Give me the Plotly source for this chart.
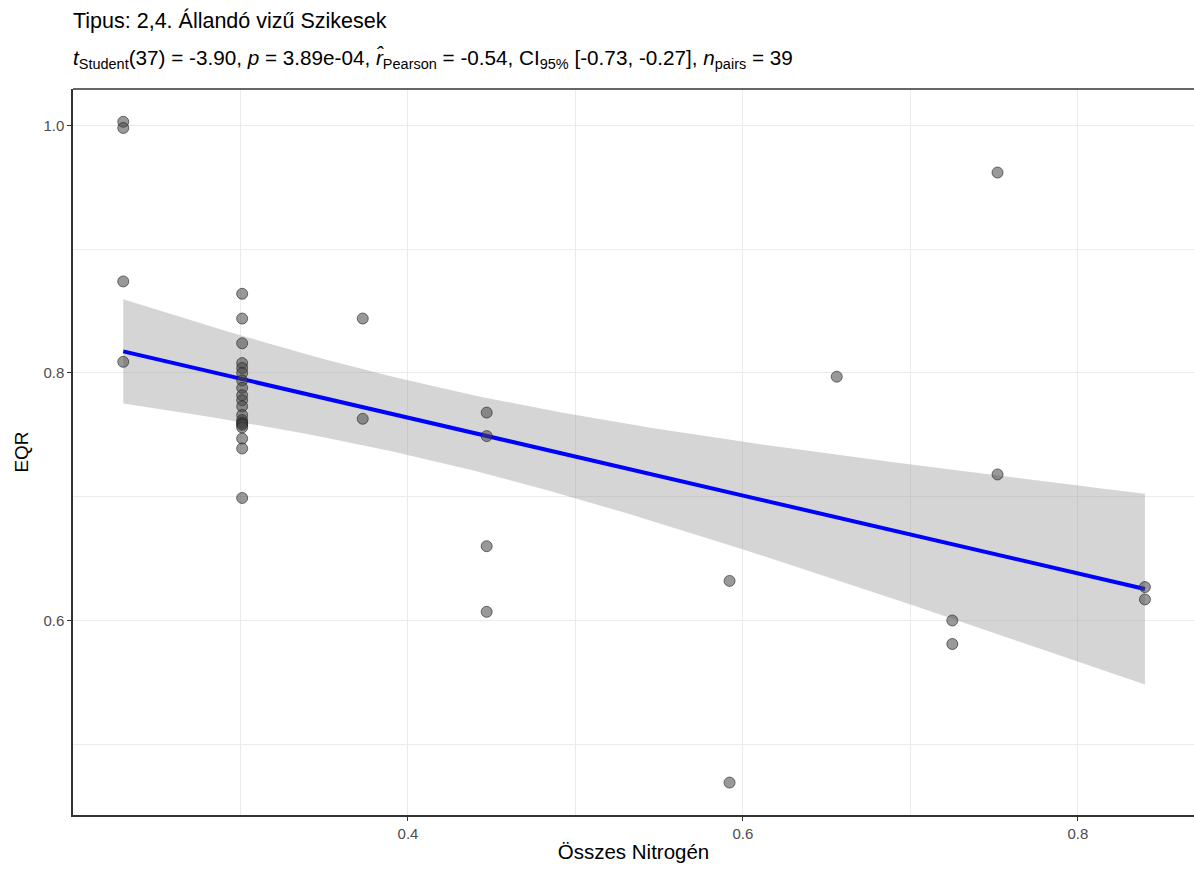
import numpy as np
import plotly.graph_objects as go

# ---- data ----
nitrogen = [0.23, 0.23, 0.23, 0.23,
            0.301, 0.301, 0.301, 0.301, 0.301, 0.301, 0.301, 0.301, 0.301, 0.301,
            0.301, 0.301, 0.301, 0.301, 0.301, 0.301, 0.301, 0.301, 0.301, 0.301,
            0.373, 0.373,
            0.447, 0.447, 0.447, 0.447,
            0.592, 0.592,
            0.656,
            0.725, 0.725,
            0.752, 0.752,
            0.84, 0.84]
eqr = [1.003, 0.998, 0.874, 0.809,
       0.864, 0.844, 0.824, 0.808, 0.804, 0.800, 0.794, 0.788, 0.782, 0.778,
       0.773, 0.766, 0.762, 0.760, 0.759, 0.758, 0.756, 0.747, 0.739, 0.699,
       0.844, 0.763,
       0.768, 0.749, 0.660, 0.607,
       0.632, 0.469,
       0.797,
       0.600, 0.581,
       0.962, 0.718,
       0.627, 0.617]

title_text = "Tipus: 2,4. Állandó vizű Szikesek"
subtitle_text = ("<i>t</i><sub>Student</sub>(37) = -3.90, <i>p</i> = 3.89e-04, "
                 "<i>r̂</i><sub>Pearson</sub> = -0.54, CI<sub>95%</sub> [-0.73, -0.27], "
                 "<i>n</i><sub>pairs</sub> = 39")
x_title = "Összes Nitrogén"
y_title = "EQR"
x_ticks = [0.4, 0.6, 0.8]
x_ticklabels = ["0.4", "0.6", "0.8"]
y_ticks = [0.6, 0.8, 1.0]
y_ticklabels = ["0.6", "0.8", "1.0"]
t_crit = 2.026  # t quantile 0.975, df = 37

# ---- linear fit with 95% confidence band ----
x = np.array(nitrogen)
y = np.array(eqr)
n = len(x)
b1, b0 = np.polyfit(x, y, 1)
resid = y - (b0 + b1 * x)
s = np.sqrt(np.sum(resid ** 2) / (n - 2))
sxx = np.sum((x - x.mean()) ** 2)
xs = np.linspace(x.min(), x.max(), 80)
ys = b0 + b1 * xs
se = s * np.sqrt(1 / n + (xs - x.mean()) ** 2 / sxx)
lo = ys - t_crit * se
hi = ys + t_crit * se

fig = go.Figure()
fig.add_trace(go.Scatter(
    x=np.concatenate([xs, xs[::-1]]), y=np.concatenate([hi, lo[::-1]]),
    fill="toself", fillcolor="rgba(150,150,150,0.4)", line=dict(width=0),
    mode="lines", hoverinfo="skip", showlegend=False))
fig.add_trace(go.Scatter(
    x=xs, y=ys, mode="lines", line=dict(color="#0000FF", width=4),
    showlegend=False))
fig.add_trace(go.Scatter(
    x=nitrogen, y=eqr, mode="markers",
    marker=dict(size=11, color="rgba(70,70,70,0.55)",
                line=dict(color="rgba(30,30,30,0.6)", width=1)),
    showlegend=False))

font_family = "Liberation Sans, Arial, sans-serif"
fig.update_layout(
    width=1194, height=870,
    margin=dict(l=73, r=0, t=89, b=55),
    paper_bgcolor="white", plot_bgcolor="white",
    font=dict(family=font_family, color="black"),
    xaxis=dict(
        range=[0.2, 0.8693], tickvals=x_ticks, ticktext=x_ticklabels,
        showgrid=True, gridcolor="#EBEBEB", gridwidth=1,
        minor=dict(dtick=0.1, tick0=0.0, showgrid=True, gridcolor="#EBEBEB", gridwidth=1),
        showline=True, linecolor="#333333", linewidth=1.5, mirror=False,
        ticks="outside", ticklen=4, tickcolor="#333333",
        tickfont=dict(size=15, color="#4D4D4D"), zeroline=False,
        title=dict(text=x_title, font=dict(size=20.5, color="black"), standoff=4),
    ),
    yaxis=dict(
        range=[0.4428, 1.0295], tickvals=y_ticks, ticktext=y_ticklabels,
        showgrid=True, gridcolor="#EBEBEB", gridwidth=1,
        minor=dict(dtick=0.1, tick0=0.0, showgrid=True, gridcolor="#EBEBEB", gridwidth=1),
        showline=True, linecolor="#333333", linewidth=1.5,
        ticks="outside", ticklen=4, tickcolor="#333333",
        tickfont=dict(size=15, color="#4D4D4D"), zeroline=False,
        title=dict(text=y_title, font=dict(size=19, color="black"), standoff=10),
    ),
    shapes=[dict(type="line", xref="paper", yref="paper", x0=0, x1=1, y0=1, y1=1,
                 line=dict(color="#333333", width=1.5))],
    annotations=[
        dict(text=title_text, xref="paper", yref="paper", x=0, y=1,
             xanchor="left", yanchor="bottom", xshift=-2, yshift=54,
             showarrow=False, font=dict(size=21.5, color="black")),
        dict(text=subtitle_text, xref="paper", yref="paper", x=0, y=1,
             xanchor="left", yanchor="bottom", xshift=-2, yshift=15,
             showarrow=False, font=dict(size=20.7, color="black")),
    ],
)

fig.write_html("out.html")
